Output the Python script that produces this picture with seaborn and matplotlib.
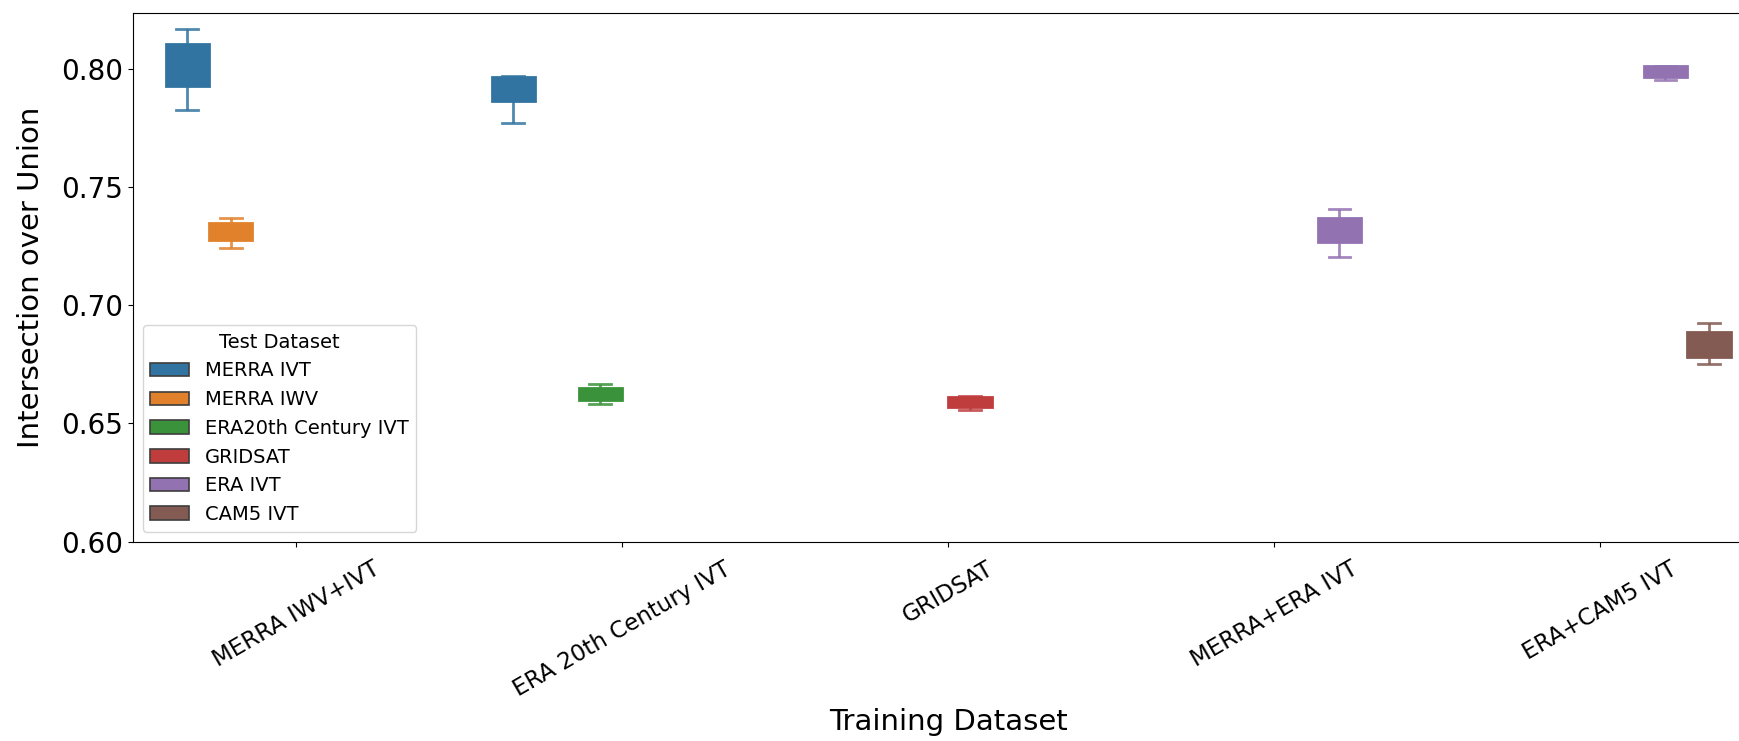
import matplotlib
matplotlib.use("Agg")
import matplotlib.pyplot as plt
import seaborn as sns
import pandas as pd

# Training datasets (x categories) and test datasets (hue levels)
training_sets = ["MERRA IWV+IVT", "ERA 20th Century IVT", "GRIDSAT",
                 "MERRA+ERA IVT", "ERA+CAM5 IVT"]
test_sets = ["MERRA IVT", "MERRA IWV", "ERA20th Century IVT",
             "GRIDSAT", "ERA IVT", "CAM5 IVT"]

# IoU scores of five runs for each (training, test) pair
iou_merraiwvivt_merraivt = [0.7828, 0.7927, 0.8010, 0.8104, 0.8167]
iou_merraiwvivt_merraiwv = [0.7240, 0.7278, 0.7312, 0.7346, 0.7367]
iou_era20c_merraivt = [0.7769, 0.7863, 0.7920, 0.7966, 0.7968]
iou_era20c_era20c = [0.6582, 0.6599, 0.6624, 0.6649, 0.6666]
iou_gridsat_gridsat = [0.6556, 0.6569, 0.6590, 0.6611, 0.6615]
iou_merraera_eraivt = [0.7205, 0.7268, 0.7320, 0.7371, 0.7405]
iou_eracam5_eraivt = [0.7952, 0.7966, 0.7990, 0.8014, 0.8014]
iou_eracam5_cam5ivt = [0.6751, 0.6782, 0.6834, 0.6886, 0.6923]

runs = [
    ("MERRA IWV+IVT", "MERRA IVT", iou_merraiwvivt_merraivt),
    ("MERRA IWV+IVT", "MERRA IWV", iou_merraiwvivt_merraiwv),
    ("ERA 20th Century IVT", "MERRA IVT", iou_era20c_merraivt),
    ("ERA 20th Century IVT", "ERA20th Century IVT", iou_era20c_era20c),
    ("GRIDSAT", "GRIDSAT", iou_gridsat_gridsat),
    ("MERRA+ERA IVT", "ERA IVT", iou_merraera_eraivt),
    ("ERA+CAM5 IVT", "ERA IVT", iou_eracam5_eraivt),
    ("ERA+CAM5 IVT", "CAM5 IVT", iou_eracam5_cam5ivt),
]
rows = [{"Training Dataset": tr, "Test Dataset": te, "IoU": v}
        for tr, te, vals in runs for v in vals]
df = pd.DataFrame(rows)

fig = plt.figure(figsize=(17.4, 7.41), dpi=100)
ax = fig.add_axes([0.0764, 0.2692, 0.937, 0.7128])

sns.boxplot(data=df, x="Training Dataset", y="IoU", hue="Test Dataset",
            order=training_sets, hue_order=test_sets, palette="tab10",
            width=0.8, linewidth=2, ax=ax)

# Draw whiskers, caps and medians in each box's own colour
for cont in ax.containers:
    if not hasattr(cont, "boxes") or len(cont.boxes) == 0:
        continue
    col = cont.boxes[0].get_facecolor()
    for b in cont.boxes:
        b.set_edgecolor(col)
    for ln in list(cont.whiskers) + list(cont.caps):
        ln.set_color(col[:3])
        ln.set_alpha(0.85)
    for ln in cont.medians:
        ln.set_color(col[:3])

ax.set_xlim(-0.5, 4.5)
ax.set_ylim(0.60, 0.8235)
ax.set_yticks([0.60, 0.65, 0.70, 0.75, 0.80])
ax.set_yticklabels(["0.60", "0.65", "0.70", "0.75", "0.80"])
ax.tick_params(axis="y", labelsize=20)
ax.tick_params(axis="x", labelsize=16.5, pad=8)
plt.setp(ax.get_xticklabels(), rotation=30)
ax.set_xlabel("Training Dataset", fontsize=21, labelpad=5)
ax.set_ylabel("Intersection over Union", fontsize=21, labelpad=12)

sns.move_legend(ax, "lower left", fontsize=14, title_fontsize=14,
                title="Test Dataset", labelspacing=0.5)
leg = ax.get_legend()
for h in leg.legend_handles:
    h.set_linewidth(1.2)

fig.savefig("out.png", dpi=100)
